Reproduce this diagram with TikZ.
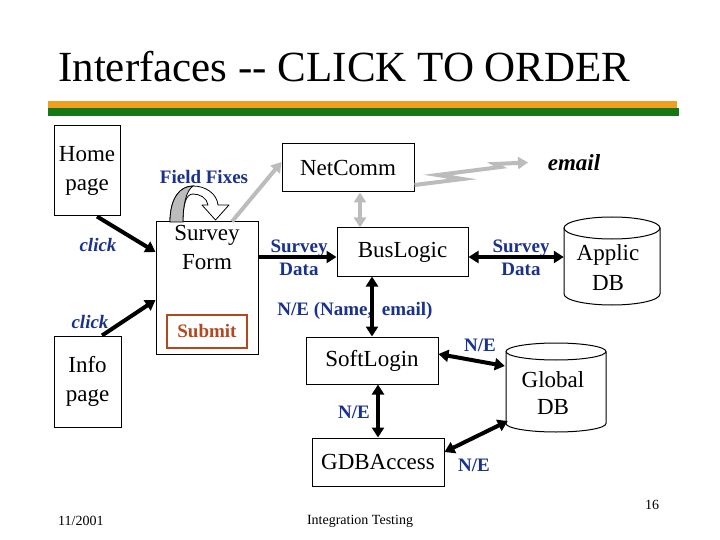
\documentclass[tikz,border=0pt]{standalone}
\usepackage{fontspec}
\setmainfont{Liberation Serif}
\usetikzlibrary{arrows.meta,calc}
\definecolor{lblue}{RGB}{25,50,140}
\definecolor{brn}{RGB}{178,72,30}
\definecolor{orng}{RGB}{240,160,30}
\definecolor{grn}{RGB}{20,120,20}
\definecolor{lgray}{RGB}{188,188,188}
\begin{document}
\begin{tikzpicture}[x=1pt,y=-1pt,
  box/.style={draw,line width=1pt,inner sep=0pt,font=\fontsize{23}{29}\selectfont,align=center},
  btxt/.style={inner sep=0pt,font=\fontsize{23}{29}\selectfont,align=center},
  lbl/.style={text=lblue,font=\fontsize{19}{23}\selectfont\bfseries,align=center,inner sep=0pt},
  lbli/.style={text=lblue,font=\fontsize{19}{23}\selectfont\bfseries\itshape,align=center,inner sep=0pt},
  foot/.style={font=\fontsize{14}{16}\selectfont,inner sep=0pt},
  blk/.style={line width=4pt,-{Triangle[length=10pt,width=12pt]}},
  dbl/.style={line width=4pt,{Triangle[length=10pt,width=12pt]}-{Triangle[length=10pt,width=12pt]}},
  gry/.style={draw=lgray,line width=4pt,-{Triangle[length=10pt,width=12pt]}},
  gdbl/.style={draw=lgray,line width=4pt,{Triangle[length=10pt,width=12pt]}-{Triangle[length=10pt,width=12pt]}}
]
\useasboundingbox (0,0) rectangle (720,540);
\fill[white] (0,0) rectangle (720,540);

% title and bars
\node[anchor=base west,inner sep=0pt,font=\fontsize{43}{48}\selectfont] (title) at (58,82) {Interfaces {-}{-} CLICK TO ORDER};
\fill[orng] (48,101.5) rectangle (677,108.5);
\fill[grn] (48,108.5) rectangle (679,116);

% boxes
\node[box,minimum width=66,minimum height=90] (home) at (87,171) {Home\\page};
\node[box,minimum width=67,minimum height=91] (info) at (87.5,381.5) {Info\\page};
\node[box,minimum width=102,minimum height=132] (form) at (207,288) {};
\node[btxt] (formtxt) at (207,247) {Survey\\Form};
\node[draw=brn,line width=1.5pt,text=brn,font=\fontsize{19}{23}\selectfont\bfseries,minimum width=80,minimum height=33,inner sep=0pt] (submit) at (207,331.5) {Submit};
\node[box,minimum width=132,minimum height=48] (netcomm) at (348,168) {NetComm};
\node[box,minimum width=131,minimum height=48] (buslogic) at (402.5,252) {BusLogic};
\node[box,minimum width=132,minimum height=47] (softlogin) at (372,360.5) {SoftLogin};
\node[box,minimum width=132,minimum height=48] (gdbaccess) at (378,462) {GDBAccess};

% cylinders
\node[minimum width=96,minimum height=88,inner sep=0pt] (applic) at (612,261) {};
\draw[line width=1pt] (564,228) -- (564,294) .. controls (564,300.1) and (585.5,305) .. (612,305) .. controls (638.5,305) and (660,300.1) .. (660,294) -- (660,228);
\draw[line width=1pt] (612,228) ellipse [x radius=48, y radius=11];
\node[btxt,font=\fontsize{23}{30}\selectfont] (applictxt) at (608,268) {Applic\\DB};

\node[minimum width=100,minimum height=89,inner sep=0pt] (global) at (556,387.5) {};
\draw[line width=1pt] (506,351.5) -- (506,423.5) .. controls (506,428.2) and (528.4,432) .. (556,432) .. controls (583.6,432) and (606,428.2) .. (606,423.5) -- (606,351.5);
\draw[line width=1pt] (556,351.5) ellipse [x radius=50, y radius=8.5];
\node[btxt,font=\fontsize{23}{27}\selectfont] (globaltxt) at (553,393.5) {Global\\DB};

% labels
\node[lbl] (ff) at (204,177) {Field Fixes};
\node[inner sep=0pt,font=\fontsize{23}{27}\selectfont\bfseries\itshape] (email) at (574,163) {email};
\node[lbl] (sd1) at (299,257.5) {Survey\\Data};
\node[lbl] (sd2) at (521,257.5) {Survey\\Data};
\node[lbl] (ne0) at (355,311) {N/E (Name,\ \ email)};
\node[lbl] (ne1) at (480,345) {N/E};
\node[lbl] (ne2) at (354,412) {N/E};
\node[lbl] (ne3) at (474,465) {N/E};
\node[lbli] (click1) at (98,245) {click};
\node[lbli] (click2) at (90,322) {click};

% footer
\node[foot,anchor=west] (date) at (58,521) {11/2001};
\node[foot] (ftitle) at (360,521) {Integration Testing};
\node[foot] (pnum) at (652,505) {16};

% field fixes U-turn arrow
\filldraw[fill=white,line width=0.8pt,line join=round] (170,222) .. controls (170,198) and (180,186) .. (193,186) .. controls (206,186) and (217,194) .. (218,205) -- (229,205) -- (215.5,220) -- (202,205) -- (208,205) .. controls (207,198) and (200,194) .. (193,194) .. controls (186,194) and (183,204) .. (183,222);
\filldraw[fill=lgray,line width=0.8pt] (170,222) .. controls (170,198) and (180,186) .. (193,186) .. controls (186,191) and (183,205) .. (183,222) -- cycle;

% connectors
\draw[blk] ($(home.south)+(10,0)$) -- ($(form.west)+(0,-36)$);
\draw[blk] ($(info.north)+(14.5,0)$) -- ($(form.west)+(0,12)$);
\draw[blk] (form.east |- 0,257) -- ($(buslogic.west)+(0,5)$);
\draw[dbl] ($(buslogic.east)+(0,5)$) -- (applic.west |- 0,257);
\draw[gry] ($(form.north)+(25,0)$) -- ($(netcomm.west)+(0,-6)$);
\draw[gdbl] ($(netcomm.south)+(12,0)$) -- (buslogic.north -| 360,0);
\coordinate (zz) at (528,162.5);
\draw[gry,line join=miter] ($(netcomm.east)+(0,17)$) -- ++(48,-6) -- ++(-25,-4) -- ++(63,-8) -- ++(-6,-3) -- (zz);
\draw[dbl] (softlogin.north |- buslogic.south) -- (softlogin.north);
\draw[dbl] ($(softlogin.east)+(0,-6.5)$) -- ($(global.west)+(-1,-21.5)$);
\draw[dbl] (gdbaccess.north |- softlogin.south) -- (gdbaccess.north);
\draw[dbl] ($(gdbaccess.east)+(0,-10)$) -- ($(global.west)+(2,33.5)$);
\end{tikzpicture}
\end{document}
